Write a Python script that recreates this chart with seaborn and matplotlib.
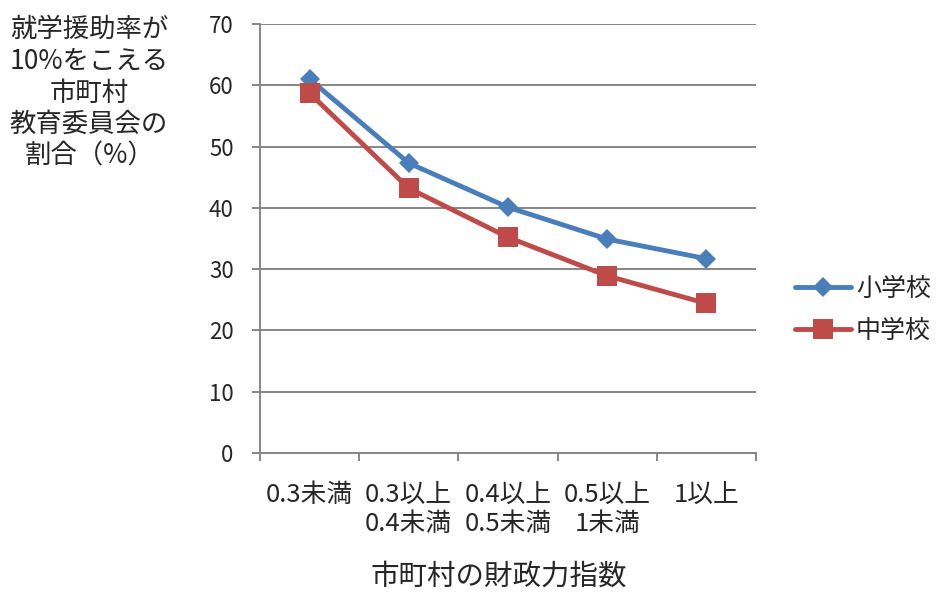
import matplotlib
matplotlib.use("Agg")
import matplotlib.pyplot as plt
import seaborn as sns
import pandas as pd

# Categories of the municipal fiscal-capability index
categories = ["0.3未満", "0.3以上\n0.4未満", "0.4以上\n0.5未満", "0.5以上\n1未満", "1以上"]
elementary = [61.0, 47.3, 40.1, 34.9, 31.7]
junior_high = [58.7, 43.2, 35.2, 28.9, 24.4]
series_names = ["小学校", "中学校"]
y_ticks = [0, 10, 20, 30, 40, 50, 60, 70]

y_title = "就学援助率が\n10%をこえる\n市町村\n教育委員会の\n割合（%）"
x_title = "市町村の財政力指数"

sns.set_theme(style="white")
plt.rcParams["font.family"] = ["Noto Sans CJK JP", "DejaVu Sans"]

rows = []
for name, values in zip(series_names, [elementary, junior_high]):
    for i, v in enumerate(values):
        rows.append({"pos": i, "rate": v, "school": name})
df = pd.DataFrame(rows)

fig = plt.figure(figsize=(9.39, 6.08), dpi=100)
ax = fig.add_axes([260 / 939, 1 - 453 / 608, (756 - 260) / 939, (453 - 24) / 608])

palette = {"小学校": "#4A7EBB", "中学校": "#BE4B48"}
marker_sizes = {"D": 10.2, "s": 14}
sns.lineplot(data=df, x="pos", y="rate", hue="school", style="school",
             markers={"小学校": "D", "中学校": "s"}, dashes=False,
             palette=palette, linewidth=3.5, markeredgewidth=0,
             ax=ax, legend=True)

# marker sizes differ per series
for line in ax.get_lines():
    if line.get_marker() in marker_sizes:
        line.set_markersize(marker_sizes[line.get_marker()])

handles, labels = ax.get_legend_handles_labels()
ax.get_legend().remove()
for h in handles:
    if h.get_marker() in marker_sizes:
        h.set_markersize(marker_sizes[h.get_marker()])
    h.set_linewidth(3.5)
    h.set_markeredgewidth(0)
fig.legend(handles, labels, loc="center left", bbox_to_anchor=(772 / 939, 1 - 310 / 608),
           frameon=False, fontsize=18, handlelength=2.25, handletextpad=0.2,
           labelspacing=0.62)

gray = "#868686"
ax.set_xlim(-0.5, len(categories) - 0.5)
ax.set_ylim(0, 70)
ax.set_yticks(y_ticks)
ax.yaxis.grid(True, color=gray, linewidth=1.4)
ax.set_axisbelow(True)

ax.set_xticks(range(len(categories)))
ax.set_xticklabels(categories, fontsize=18.5, linespacing=1.15)
ax.set_xticks([i - 0.5 for i in range(len(categories) + 1)], minor=True)
ax.tick_params(axis="x", which="major", length=0, pad=21)
ax.tick_params(axis="x", which="minor", length=6, width=1.4, color=gray, direction="out",
               bottom=True)
ax.tick_params(axis="y", length=6, width=1.4, color=gray, direction="out", left=True,
               labelsize=16, pad=13)

for side in ["top", "right"]:
    ax.spines[side].set_visible(False)
for side in ["left", "bottom"]:
    ax.spines[side].set_color(gray)
    ax.spines[side].set_linewidth(1.4)

ax.set_xlabel("")
ax.set_ylabel("")

fig.text(89 / 939, 1 - 93 / 608, y_title, ha="center", va="center", fontsize=19,
         linespacing=1.22)
fig.text(499 / 939, 1 - 577 / 608, x_title, ha="center", va="center", fontsize=20.5)

fig.savefig("out.png", dpi=100)
